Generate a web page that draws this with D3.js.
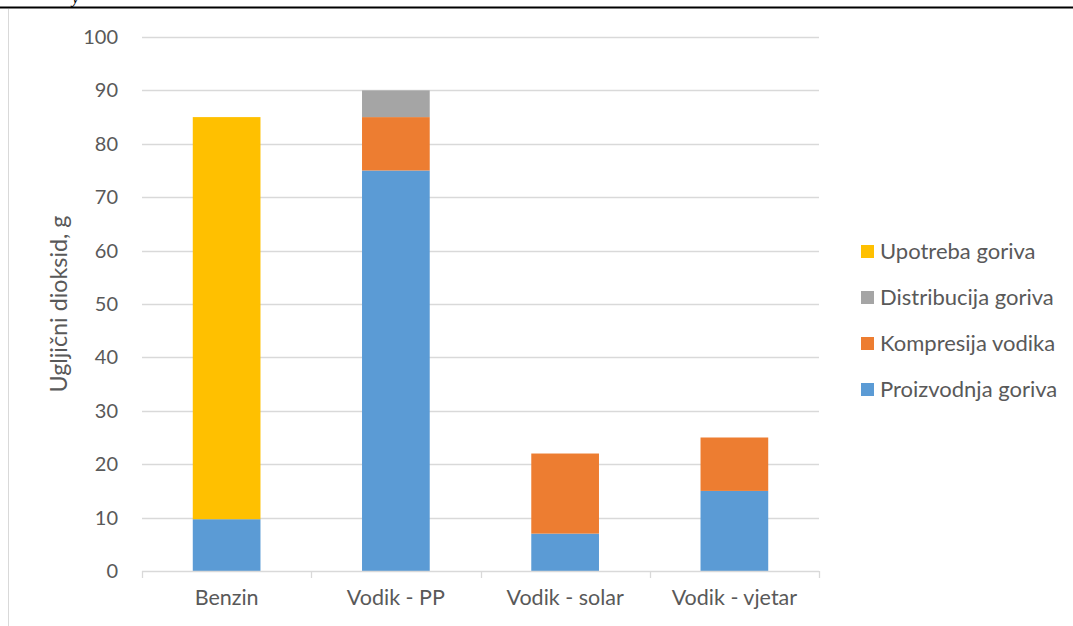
<!DOCTYPE html>
<html>
<head>
<meta charset="utf-8">
<script src="https://cdn.jsdelivr.net/npm/d3@7"></script>
<style>
body { margin: 0; background: #fff; }
svg { display: block; font-family: Lato, "Open Sans", sans-serif; }
</style>
</head>
<body>
<div id="viz"></div>
<script>
// Datos del gráfico
let kategorije = ['Benzin', 'Vodik - PP', 'Vodik - solar', 'Vodik - vjetar'];
let serije = ['Proizvodnja goriva', 'Kompresija vodika', 'Distribucija goriva', 'Upotreba goriva'];
let boje = ['#5b9bd5', '#ed7d31', '#a5a5a5', '#ffc000'];
let proizvodnja = [9.7, 75, 7, 15];
let kompresija = [0, 10, 15, 10];
let distribucija = [0, 5, 0, 0];
let upotreba = [75.3, 0, 0, 0];
let yTicks = [0, 10, 20, 30, 40, 50, 60, 70, 80, 90, 100];

let w = 1073, h = 626;
let plot = {left: 142, right: 819, top: 37, bottom: 571};

let svg = d3.select('#viz').append('svg')
    .attr('width', w)
    .attr('height', h);

// okvir stranice
svg.append('line')
    .attr('x1', 0).attr('x2', w).attr('y1', 7.5).attr('y2', 7.5)
    .attr('stroke', '#000').attr('stroke-width', 2);
svg.append('line')
    .attr('x1', 8.5).attr('x2', 8.5).attr('y1', 9).attr('y2', h)
    .attr('stroke', '#d9d9d9').attr('stroke-width', 1);
svg.append('text')
    .attr('x', 72).attr('y', 3)
    .style('font-family', '"Liberation Serif", serif')
    .style('font-style', 'italic')
    .style('font-size', '16px')
    .text('y');

let tablica = kategorije.map((k, i) => ({
    kategorija: k,
    'Proizvodnja goriva': proizvodnja[i],
    'Kompresija vodika': kompresija[i],
    'Distribucija goriva': distribucija[i],
    'Upotreba goriva': upotreba[i]
}));

let x = d3.scaleBand()
    .domain(kategorije)
    .range([plot.left, plot.right])
    .paddingInner(0.6)
    .paddingOuter(0.3);

let y = d3.scaleLinear()
    .domain([0, 100])
    .range([plot.bottom, plot.top]);

// Mreža
svg.append('g')
    .selectAll('line')
    .data(yTicks.slice(1))
    .enter().append('line')
        .attr('x1', plot.left).attr('x2', plot.right)
        .attr('y1', d => Math.round(y(d)) + 0.5)
        .attr('y2', d => Math.round(y(d)) + 0.5)
        .attr('stroke', '#d9d9d9')
        .attr('stroke-width', 1.3);

// Y oznake
svg.append('g')
    .selectAll('text')
    .data(yTicks)
    .enter().append('text')
        .attr('x', 118)
        .attr('y', d => y(d))
        .attr('dy', '0.35em')
        .attr('text-anchor', 'end')
        .attr('fill', '#595959')
        .style('font-size', '20px')
        .text(d => d);

// Stupci
let stack = d3.stack().keys(serije)(tablica);
svg.append('g')
    .selectAll('g')
    .data(stack)
    .enter().append('g')
        .attr('fill', (d, i) => boje[i])
    .selectAll('rect')
    .data(d => d)
    .enter().append('rect')
        .attr('x', d => x(d.data.kategorija))
        .attr('width', x.bandwidth())
        .attr('y', d => y(d[1]))
        .attr('height', d => y(d[0]) - y(d[1]));

// X os
let os = svg.append('g');
os.append('line')
    .attr('x1', plot.left).attr('x2', plot.right)
    .attr('y1', plot.bottom + 0.5).attr('y2', plot.bottom + 0.5)
    .attr('stroke', '#d9d9d9').attr('stroke-width', 1.3);
let step = (plot.right - plot.left) / kategorije.length;
os.selectAll('.crtica')
    .data(d3.range(kategorije.length + 1))
    .enter().append('line')
        .attr('x1', i => Math.round(plot.left + i * step) + 0.5)
        .attr('x2', i => Math.round(plot.left + i * step) + 0.5)
        .attr('y1', plot.bottom).attr('y2', plot.bottom + 7)
        .attr('stroke', '#d9d9d9').attr('stroke-width', 1.3);
os.selectAll('.oznaka')
    .data(kategorije)
    .enter().append('text')
        .attr('x', d => x(d) + x.bandwidth() / 2)
        .attr('y', 605)
        .attr('text-anchor', 'middle')
        .attr('fill', '#595959')
        .style('font-size', '21.5px')
        .text(d => d);

// Naslov osi Y
svg.append('text')
    .attr('transform', 'translate(67,304) rotate(-90)')
    .attr('text-anchor', 'middle')
    .attr('fill', '#595959')
    .style('font-size', '23.3px')
    .text('Ugljični dioksid, g');

// Legenda
let legenda = svg.append('g');
let redoslijed = serije.slice().reverse();
redoslijed.forEach((s, i) => {
    let yy = 251 + i * 46;
    legenda.append('rect')
        .attr('x', 861).attr('y', yy - 6)
        .attr('width', 13).attr('height', 13)
        .attr('fill', boje[serije.indexOf(s)]);
    legenda.append('text')
        .attr('x', 880).attr('y', yy)
        .attr('dy', '0.35em')
        .attr('fill', '#595959')
        .style('font-size', '22px')
        .text(s);
});
</script>
</body>
</html>
